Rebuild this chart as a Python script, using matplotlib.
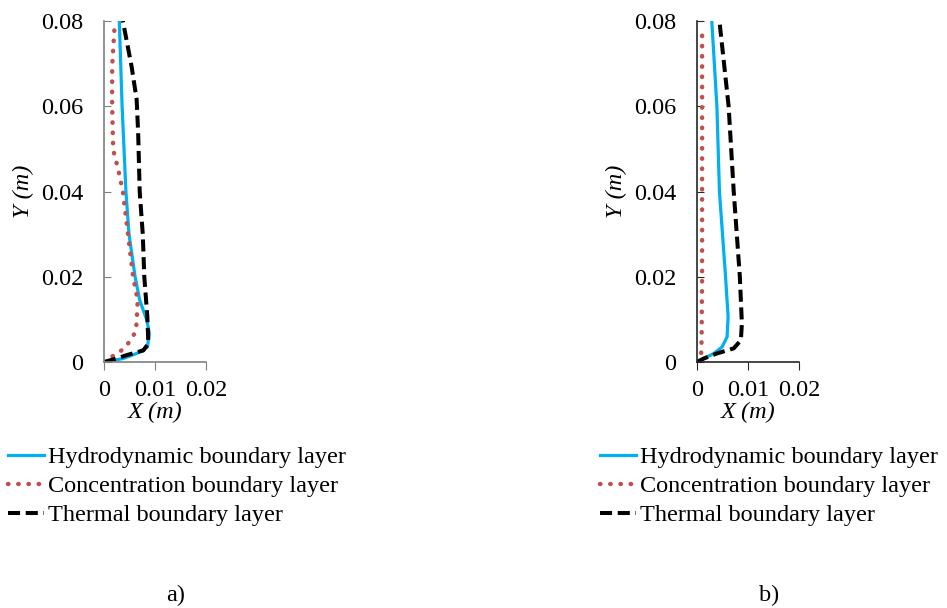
import numpy as np
import matplotlib.pyplot as plt

plt.rcParams['font.family'] = ['Liberation Serif', 'DejaVu Serif']

# ======================
# data (X in m, Y in m)
# ======================
# panel a)
hydro_a_x = [0, 0.0037, 0.0064, 0.0085, 0.0089, 0.0084, 0.0070, 0.0061, 0.0049, 0.0043, 0.00355, 0.0030]
hydro_a_y = [0, 0.0008, 0.0020, 0.0035, 0.0067, 0.0098, 0.0145, 0.0200, 0.0300, 0.0400, 0.0600, 0.0800]

conc_a_x = [0, 0.0016, 0.0034, 0.0047, 0.0060, 0.0064, 0.0066, 0.0057, 0.0047, 0.0037, 0.0028, 0.0018, 0.0016, 0.0016, 0.0021]
conc_a_y = [0, 0.0013, 0.0027, 0.0043, 0.0067, 0.0090, 0.0145, 0.0200, 0.0300, 0.0400, 0.0451, 0.0498, 0.0600, 0.0694, 0.0792]

therm_a_x = [0, 0.0024, 0.0044, 0.0077, 0.0087, 0.0085, 0.0079, 0.0076, 0.0070, 0.0067, 0.0064, 0.0054, 0.0037]
therm_a_y = [0, 0.0008, 0.0016, 0.0027, 0.0043, 0.0106, 0.0200, 0.0300, 0.0400, 0.0537, 0.0616, 0.0694, 0.0800]

# panel b)
hydro_b_x = [0, 0.0033, 0.0049, 0.0059, 0.0061, 0.0056, 0.0044, 0.0039, 0.0029]
hydro_b_y = [0, 0.0020, 0.0035, 0.0059, 0.0106, 0.0200, 0.0400, 0.0600, 0.0800]

conc_b_x = [0, 0.0008, 0.0009, 0.0010, 0.0010, 0.0010, 0.0010]
conc_b_y = [0, 0.0015, 0.0050, 0.0200, 0.0400, 0.0600, 0.0780]

therm_b_x = [0, 0.0013, 0.0039, 0.0072, 0.0086, 0.0088, 0.0084, 0.0072, 0.0062, 0.0044]
therm_b_y = [0, 0.0008, 0.0020, 0.0032, 0.0051, 0.0090, 0.0200, 0.0400, 0.0600, 0.0800]

labels = ["Hydrodynamic boundary layer", "Concentration boundary layer", "Thermal boundary layer"]
x_ticks = [0, 0.01, 0.02]
x_ticklabels = ["0", "0.01", "0.02"]
y_ticks = [0, 0.02, 0.04, 0.06, 0.08]
y_ticklabels = ["0", "0.02", "0.04", "0.06", "0.08"]

panels = [
    (hydro_a_x, hydro_a_y, conc_a_x, conc_a_y, therm_a_x, therm_a_y, "a)"),
    (hydro_b_x, hydro_b_y, conc_b_x, conc_b_y, therm_b_x, therm_b_y, "b)"),
]

# ======================
# figure
# ======================
W, H = 947, 608
fig = plt.figure(figsize=(W / 100, H / 100), dpi=100)

ax_left = [104, 697]      # pixel position of y axis
leg_left = [8, 600]
spine_col = ["#7f7f7f", "#262626"]
fs = 17.5

for k, (hx, hy, cx, cy, tx, ty, tag) in enumerate(panels):
    ax = fig.add_axes([ax_left[k] / W, (H - 362) / H, 102 / W, 341 / H])

    l1, = ax.plot(hx, hy, color="#00b0f0", lw=2.3)
    l2, = ax.plot(cx, cy, color="#c0504d", lw=3.2, linestyle=(0, (0.1, 2.2)),
                  dash_capstyle="round")
    l3, = ax.plot(tx, ty, color="black", lw=2.9, linestyle=(0, (3.0, 1.4)))

    ax.set_xlim(0, 0.02)
    ax.set_ylim(0, 0.08)
    ax.set_xticks(x_ticks)
    ax.set_xticklabels(x_ticklabels)
    ax.set_yticks(y_ticks)
    ax.set_yticklabels(y_ticklabels)
    ax.tick_params(axis="x", direction="out", length=6, labelsize=fs, pad=7,
                   color=spine_col[k])
    ax.tick_params(axis="y", direction="in", length=5, labelsize=fs, pad=15,
                   color=spine_col[k])

    for s in ["top", "right"]:
        ax.spines[s].set_visible(False)
    for s in ["left", "bottom"]:
        ax.spines[s].set_color(spine_col[k])
        ax.spines[s].set_linewidth(1.2)

    ax.set_xlabel("X (m)", fontsize=fs, style="italic", labelpad=0.5)
    ax.set_ylabel("Y (m)", fontsize=fs, style="italic", labelpad=5)

    ax.legend([l1, l2, l3], labels, loc="upper left",
              bbox_to_anchor=(leg_left[k] / W, 1 - 446 / H),
              bbox_transform=fig.transFigure, frameon=False, fontsize=fs,
              handlelength=1.5, handletextpad=0.15, labelspacing=0.29,
              borderaxespad=0, borderpad=0)

    fig.text((ax_left[k] + 72) / W, 1 - 595 / H, tag, fontsize=fs,
             ha="center", va="center")

plt.savefig("out.png", dpi=100)
